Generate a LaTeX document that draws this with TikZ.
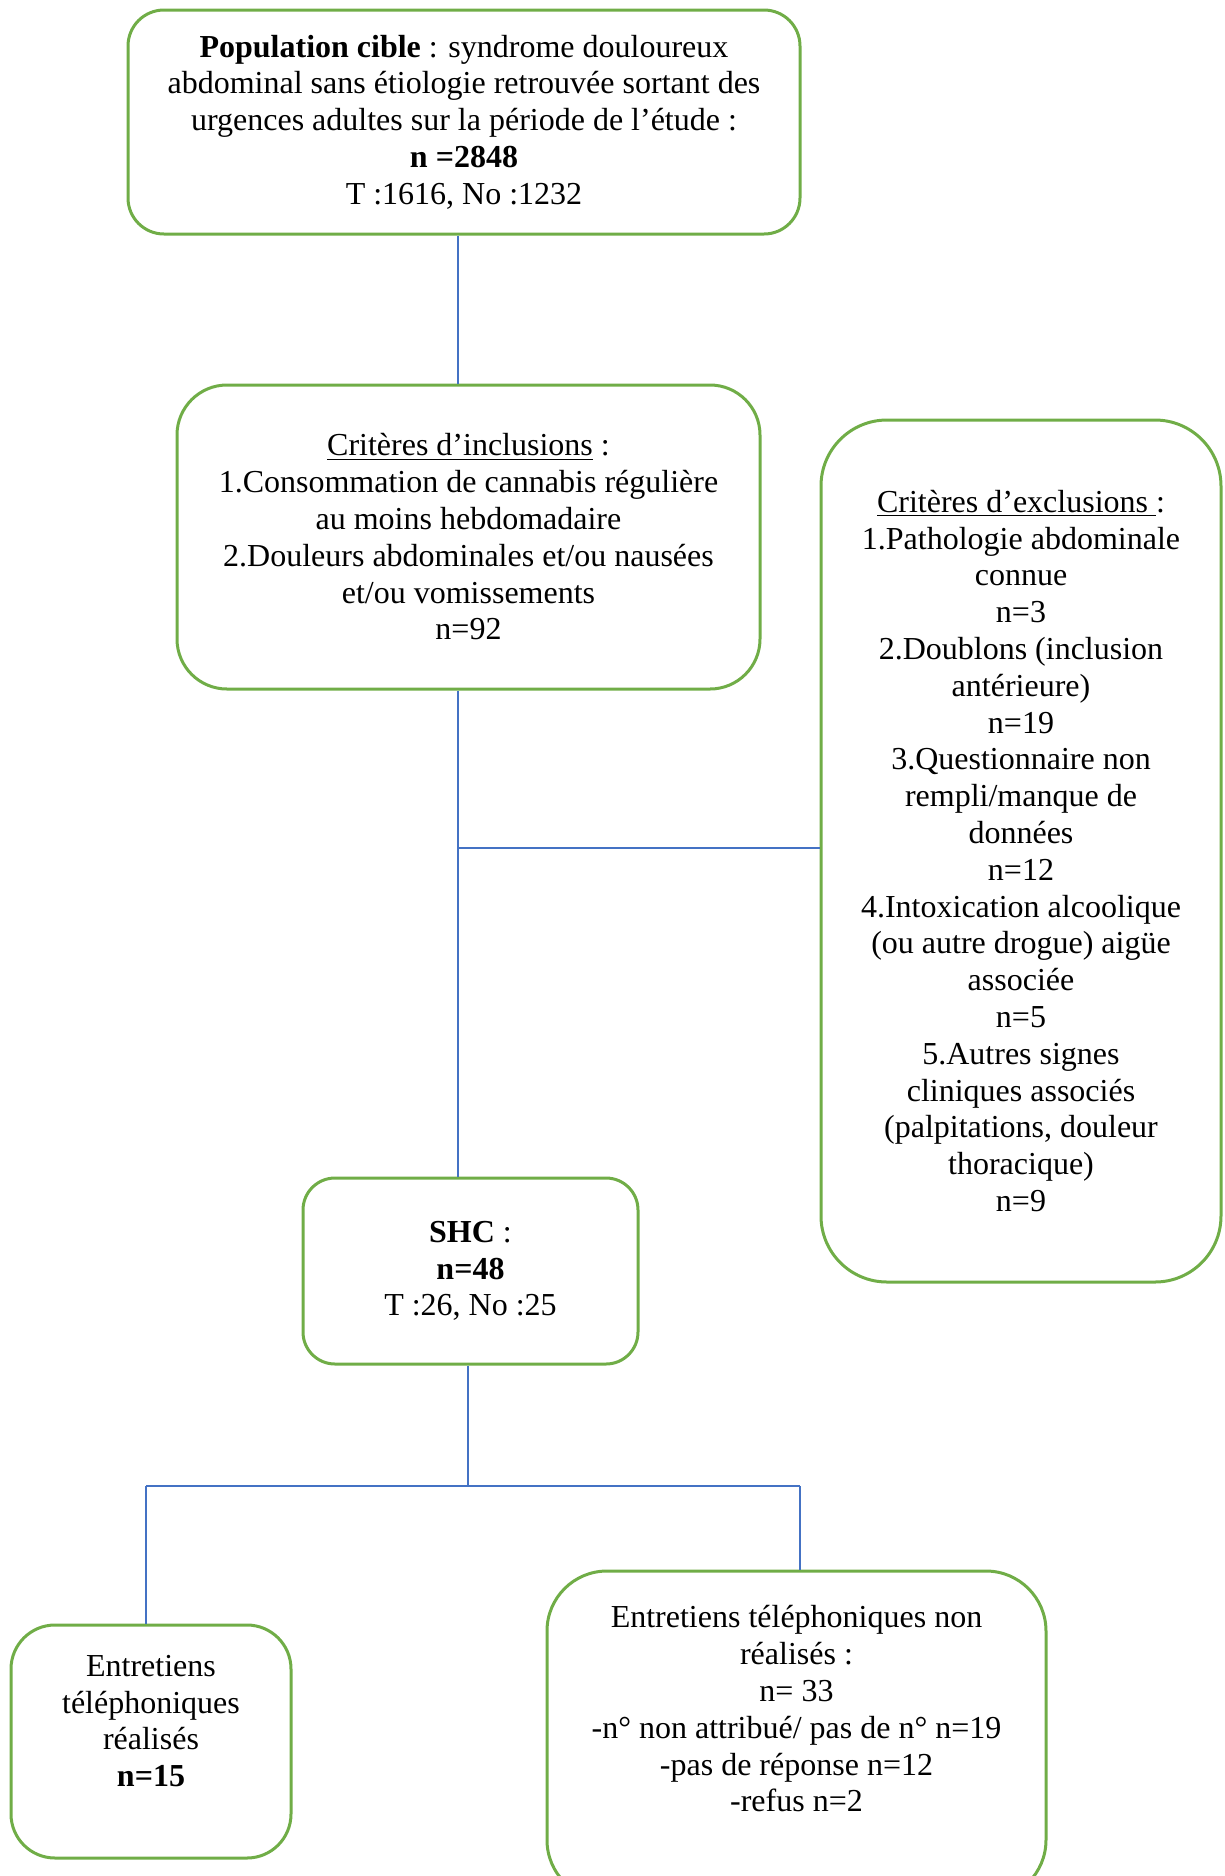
\documentclass[tikz,border=0pt]{standalone}
\usepackage{fontspec}
\setmainfont{Liberation Serif}
\definecolor{boxgreen}{HTML}{70AD47}
\definecolor{lineblue}{HTML}{4472C4}
\begin{document}
\begin{tikzpicture}[x=0.5pt,y=-0.5pt,
  box/.style={draw=boxgreen, line width=1.5pt, rectangle, inner sep=0pt, align=center},
  txt/.style={align=center, inner sep=0pt},
  conn/.style={draw=lineblue, line width=0.6pt},
  every node/.append style={font=\fontsize{16}{18.4}\selectfont}]
\useasboundingbox (0,0) rectangle (1225,1876);

\node[box, rounded corners=18pt, minimum width=336pt, minimum height=112pt] (b1) at (464,122)
 {\textbf{Population cible} : syndrome douloureux\\ abdominal sans étiologie retrouvée sortant des\\ urgences adultes sur la période de l’étude :\\ \textbf{n =2848}\\ T :1616, No :1232};

\node[box, rounded corners=25pt, minimum width=291.5pt, minimum height=152pt] (b2) at (468.5,537)
 {\underline{Critères d’inclusions} :\\ 1.Consommation de cannabis régulière\\ au moins hebdomadaire\\ 2.Douleurs abdominales et/ou nausées\\ et/ou vomissements\\ n=92};

\node[box, rounded corners=33pt, minimum width=200pt, minimum height=431pt] (b3) at (1021,851)
 {\underline{Critères d’exclusions }:\\ 1.Pathologie abdominale\\ connue\\ n=3\\ 2.Doublons (inclusion\\ antérieure)\\ n=19\\ 3.Questionnaire non\\ rempli/manque de\\ données\\ n=12\\ 4.Intoxication alcoolique\\ (ou autre drogue) aigüe\\ associée\\ n=5\\ 5.Autres signes\\ cliniques associés\\ (palpitations, douleur\\ thoracique)\\ n=9};

\node[box, rounded corners=16pt, minimum width=167.5pt, minimum height=93pt] (b4) at (470.5,1271)
 {\textbf{SHC} :\\ \textbf{n=48}\\ T :26, No :25};

\node[box, rounded corners=22pt, minimum width=140pt, minimum height=116.5pt] (b5) at (151,1741.5) {};
\node[txt] (t5) at (151,1721) {Entretiens\\ téléphoniques\\ réalisés\\ \textbf{n=15}};

\node[box, rounded corners=30pt, minimum width=249.5pt, minimum height=164.5pt] (b6) at (796.5,1735.5) {};
\node[txt] (t6) at (796.5,1709) {Entretiens téléphoniques non\\ réalisés :\\ n= 33\\ -n° non attribué/ pas de n° n=19\\ -pas de réponse n=12\\ -refus n=2};

\coordinate (xa) at (458,0);
\coordinate (ja) at (458,848);
\coordinate (xb) at (468,0);
\coordinate (jb) at (468,1486);
\coordinate (jl) at (146,1486);
\coordinate (jr) at (800,1486);

\draw[conn] (b1.south -| xa) -- (b2.north -| xa);
\draw[conn] (b2.south -| xa) -- (b4.north -| xa);
\draw[conn] (ja) -- (ja -| b3.west);
\draw[conn] (b4.south -| xb) -- (jb);
\draw[conn] (jl) -- (jr);
\draw[conn] (jl) -- (b5.north -| jl);
\draw[conn] (jr) -- (b6.north -| jr);
\end{tikzpicture}
\end{document}
